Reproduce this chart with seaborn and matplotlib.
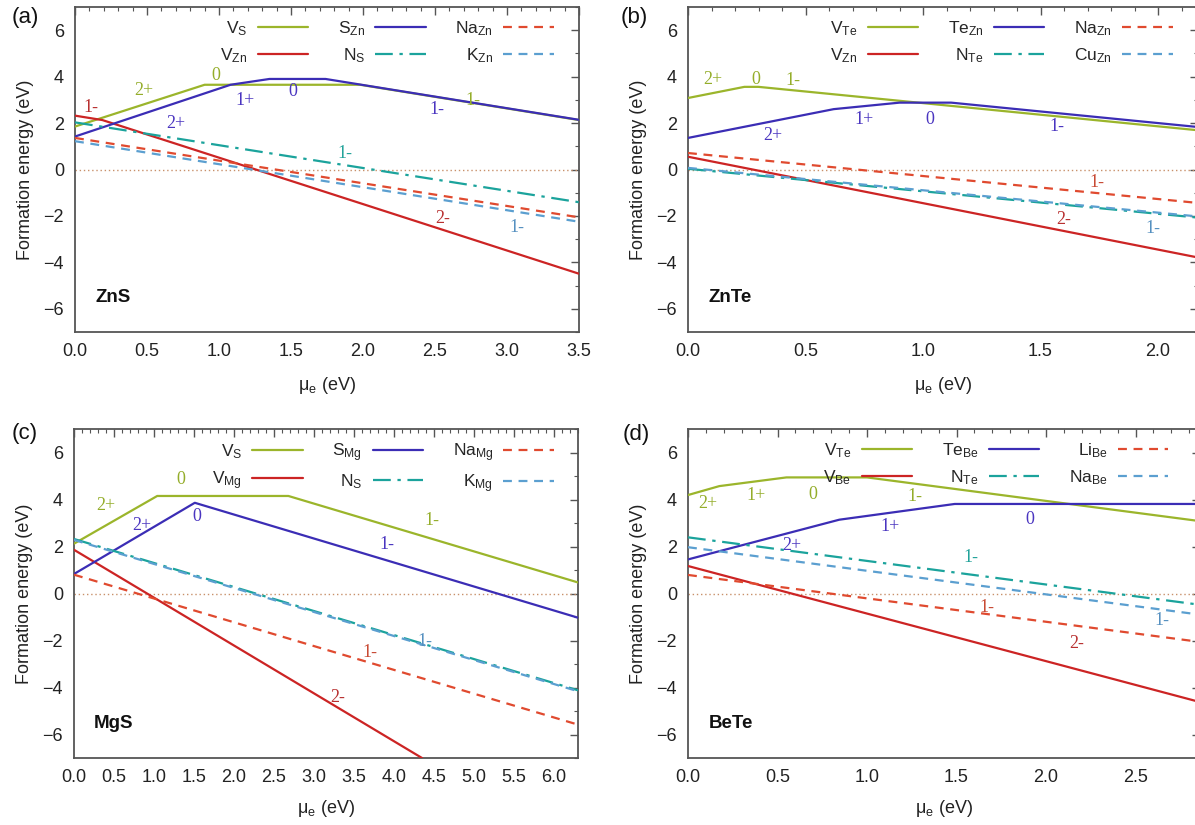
import matplotlib
matplotlib.use("Agg")
import matplotlib.pyplot as plt
import seaborn as sns
import pandas as pd
from matplotlib.ticker import MultipleLocator

# ---------------- data ----------------
# Panel (a) ZnS
a_VS_x = [0.0, 0.90, 1.98, 3.5];            a_VS_y = [1.85, 3.65, 3.65, 2.13]
a_VZn_x = [0.0, 0.19, 3.5];                 a_VZn_y = [2.32, 2.13, -4.49]
a_SZn_x = [0.0, 1.08, 1.35, 1.74, 3.5];     a_SZn_y = [1.42, 3.65, 3.90, 3.90, 2.14]
a_NS_x = [0.0, 3.5];                        a_NS_y = [2.03, -1.41]
a_NaZn_x = [0.0, 3.5];                      a_NaZn_y = [1.36, -2.06]
a_KZn_x = [0.0, 3.5];                       a_KZn_y = [1.22, -2.25]

# Panel (b) ZnTe
b_VTe_x = [0.0, 0.24, 0.30, 2.25];          b_VTe_y = [3.08, 3.56, 3.56, 1.61]
b_VZn_x = [0.0, 2.25];                      b_VZn_y = [0.55, -3.95]
b_TeZn_x = [0.0, 0.62, 0.90, 1.12, 2.25];   b_TeZn_y = [1.36, 2.60, 2.88, 2.88, 1.75]
b_NTe_x = [0.0, 2.25];                      b_NTe_y = [0.03, -2.15]
b_NaZn_x = [0.0, 2.25];                     b_NaZn_y = [0.71, -1.52]
b_CuZn_x = [0.0, 2.25];                     b_CuZn_y = [0.07, -2.10]

# Panel (c) MgS
c_VS_x = [0.0, 1.04, 2.68, 6.3];            c_VS_y = [2.12, 4.15, 4.15, 0.47]
c_VMg_x = [0.0, 4.35];                      c_VMg_y = [1.86, -7.0]
c_SMg_x = [0.0, 1.51, 6.3];                 c_SMg_y = [0.83, 3.86, -1.03]
c_NS_x = [0.0, 6.3];                        c_NS_y = [2.32, -4.12]
c_NaMg_x = [0.0, 6.3];                      c_NaMg_y = [0.80, -5.58]
c_KMg_x = [0.0, 6.3];                       c_KMg_y = [2.28, -4.16]

# Panel (d) BeTe
d_VTe_x = [0.0, 0.175, 0.55, 1.0, 2.9];     d_VTe_y = [4.19, 4.57, 4.94, 4.94, 3.04]
d_VBe_x = [0.0, 2.9];                       d_VBe_y = [1.17, -4.70]
d_TeBe_x = [0.0, 0.845, 1.49, 2.9];         d_TeBe_y = [1.45, 3.14, 3.81, 3.81]
d_NTe_x = [0.0, 2.9];                       d_NTe_y = [2.39, -0.52]
d_LiBe_x = [0.0, 2.9];                      d_LiBe_y = [0.79, -2.10]
d_NaBe_x = [0.0, 2.9];                      d_NaBe_y = [1.97, -0.94]

a_names = ["V$_{S}$", "V$_{Zn}$", "S$_{Zn}$", "N$_{S}$", "Na$_{Zn}$", "K$_{Zn}$"]
b_names = ["V$_{Te}$", "V$_{Zn}$", "Te$_{Zn}$", "N$_{Te}$", "Na$_{Zn}$", "Cu$_{Zn}$"]
c_names = ["V$_{S}$", "V$_{Mg}$", "S$_{Mg}$", "N$_{S}$", "Na$_{Mg}$", "K$_{Mg}$"]
d_names = ["V$_{Te}$", "V$_{Be}$", "Te$_{Be}$", "N$_{Te}$", "Li$_{Be}$", "Na$_{Be}$"]

# charge-state labels: (x, y, text, series index)
a_charges = [(0.48, 3.39, "2+", 0), (0.98, 4.04, "0", 0), (2.76, 2.99, "1-", 0),
             (0.11, 2.67, "1-", 1), (2.55, -2.13, "2-", 1),
             (0.70, 1.99, "2+", 2), (1.18, 2.99, "1+", 2), (1.51, 3.36, "0", 2), (2.51, 2.57, "1-", 2),
             (1.875, 0.71, "1-", 3), (3.07, -2.49, "1-", 5)]
b_charges = [(0.105, 3.86, "2+", 0), (0.29, 3.89, "0", 0), (0.445, 3.82, "1-", 0),
             (1.60, -2.16, "2-", 1),
             (0.36, 1.46, "2+", 2), (0.75, 2.17, "1+", 2), (1.03, 2.14, "0", 2), (1.57, 1.84, "1-", 2),
             (1.74, -0.55, "1-", 4), (1.98, -2.53, "1-", 5)]
c_charges = [(0.40, 3.76, "2+", 0), (1.33, 4.84, "0", 0), (4.48, 3.12, "1-", 0),
             (3.30, -4.42, "2-", 1),
             (0.85, 2.90, "2+", 2), (1.53, 3.29, "0", 2), (3.91, 2.08, "1-", 2),
             (4.39, -2.03, "1-", 5), (3.70, -2.53, "1-", 4)]
d_charges = [(0.11, 3.84, "2+", 0), (0.38, 4.19, "1+", 0), (0.70, 4.22, "0", 0), (1.27, 4.12, "1-", 0),
             (2.17, -2.14, "2-", 1),
             (0.58, 2.04, "2+", 2), (1.13, 2.86, "1+", 2), (1.91, 3.14, "0", 2),
             (1.58, 1.52, "1-", 3), (1.67, -0.59, "1-", 4), (2.65, -1.15, "1-", 5)]

# ---------------- styling ----------------
sns.set_theme(style="white")
plt.rcParams["font.family"] = ["Liberation Sans", "DejaVu Sans"]
plt.rcParams["mathtext.default"] = "regular"

line_colors = ["#9bb52b", "#cc2424", "#3b2db5", "#1ba39c", "#e04a2f", "#5b9fd0"]
label_colors = ["#94ad2a", "#b83030", "#4a35c0", "#23a39a", "#c84a34", "#5590c0"]
line_styles = ["-", "-", "-", (0, (8, 3, 1.5, 3)), (0, (4, 3)), (0, (4, 3))]

W, H = 1195.0, 825.0
fig = plt.figure(figsize=(W / 100, H / 100), dpi=100)

panels = [
    dict(rect=(75, 7, 504, 325), xlim=3.5, name="ZnS", letter="(a)", lpos=(25, 18),
         series=[(a_VS_x, a_VS_y), (a_VZn_x, a_VZn_y), (a_SZn_x, a_SZn_y),
                 (a_NS_x, a_NS_y), (a_NaZn_x, a_NaZn_y), (a_KZn_x, a_KZn_y)],
         names=a_names, charges=a_charges, leg=(0.950, 0.962), xl=-43.0),
    dict(rect=(688, 7, 510, 325), xlim=510 / 235.0, name="ZnTe", letter="(b)", lpos=(634, 18),
         series=[(b_VTe_x, b_VTe_y), (b_VZn_x, b_VZn_y), (b_TeZn_x, b_TeZn_y),
                 (b_NTe_x, b_NTe_y), (b_NaZn_x, b_NaZn_y), (b_CuZn_x, b_CuZn_y)],
         names=b_names, charges=b_charges, leg=(0.950, 0.962), xl=-43.0),
    dict(rect=(74, 429, 504, 329), xlim=6.3, name="MgS", letter="(c)", lpos=(25, 433),
         series=[(c_VS_x, c_VS_y), (c_VMg_x, c_VMg_y), (c_SMg_x, c_SMg_y),
                 (c_NS_x, c_NS_y), (c_NaMg_x, c_NaMg_y), (c_KMg_x, c_KMg_y)],
         names=c_names, charges=c_charges, leg=(0.952, 0.962), xl=-40.0),
    dict(rect=(688, 429, 512, 329), xlim=512 / 179.0, name="BeTe", letter="(d)", lpos=(636, 435),
         series=[(d_VTe_x, d_VTe_y), (d_VBe_x, d_VBe_y), (d_TeBe_x, d_TeBe_y),
                 (d_NTe_x, d_NTe_y), (d_LiBe_x, d_LiBe_y), (d_NaBe_x, d_NaBe_y)],
         names=d_names, charges=d_charges, leg=(0.938, 0.962), xl=-40.0),
]

for p in panels:
    l, t, w, h = p["rect"]
    ax = fig.add_axes([l / W, 1 - (t + h) / H, w / W, h / H])
    ax.axhline(0, color="#c8906a", lw=1.0, ls=(0, (1, 2)), zorder=1)
    for i, ((xs, ys), nm) in enumerate(zip(p["series"], p["names"])):
        df = pd.DataFrame({"mu": xs, "E": ys})
        sns.lineplot(data=df, x="mu", y="E", ax=ax, color=line_colors[i],
                     linestyle=line_styles[i], lw=1.6, label=nm,
                     estimator=None, sort=False, zorder=3)
    for (cx, cy, s, k) in p["charges"]:
        ax.text(cx, cy, s, color=label_colors[k], fontsize=13,
                family=["Liberation Serif", "DejaVu Serif"], ha="center", va="center")
    ax.set_xlim(0, p["xlim"])
    ax.set_ylim(-7, 7)
    ax.xaxis.set_major_locator(MultipleLocator(0.5))
    ax.xaxis.set_minor_locator(MultipleLocator(0.1))
    ax.yaxis.set_major_locator(MultipleLocator(2))
    ax.yaxis.set_minor_locator(MultipleLocator(1))
    ax.tick_params(which="both", direction="in", top=True, right=True,
                   color="#555555", labelsize=13, labelcolor="#222222")
    ax.tick_params(which="major", length=6, width=1.0, pad=8)
    ax.tick_params(which="minor", length=3, width=0.8)
    for sp in ax.spines.values():
        sp.set_color("#555555")
        sp.set_linewidth(1.3)
    ax.set_xlabel("μ$_{e}$ (eV)", fontsize=13, color="#222222")
    ax.set_ylabel("Formation energy (eV)", fontsize=13, color="#222222")
    ax.yaxis.set_label_coords(-41.0 / w, 0.5)
    ax.xaxis.set_label_coords(0.5, p["xl"] / h)
    handles, labels = ax.get_legend_handles_labels()
    ax.legend(handles, labels, ncols=3, markerfirst=False, frameon=False,
              loc="upper right", bbox_to_anchor=p["leg"], borderaxespad=0,
              borderpad=0, fontsize=12.5, handlelength=2.9, handletextpad=0.6,
              columnspacing=1.7, labelspacing=0.45)
    ax.text(0.04, 0.105, p["name"], transform=ax.transAxes, fontsize=13.5,
            fontweight="bold", ha="left", va="center", color="#111111")
    fig.text(p["lpos"][0] / W, 1 - p["lpos"][1] / H, p["letter"], fontsize=16,
             ha="center", va="center", color="#111111")

fig.savefig("out.png", dpi=100)
